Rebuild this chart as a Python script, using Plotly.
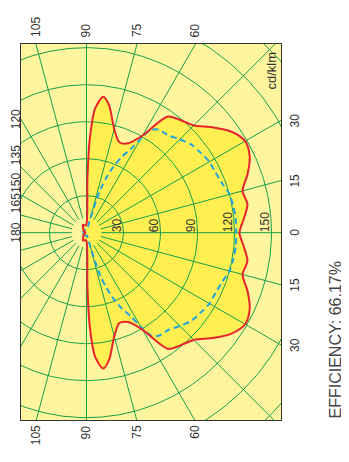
import numpy as np
import plotly.graph_objects as go

# photometric curves in cd/klm, one half-plane each (the other half is the mirror)
# angle 0 points right, angles grow counter-clockwise
red_angles = [0, 5, 10, 15, 20, 25, 30, 35, 40, 45, 50, 55, 60, 65, 70, 75, 80, 83, 86, 88, 89, 90,
              100, 115, 130, 145, 160, 180]
red_cd = [124, 128, 132.5, 131, 139, 146, 148.5, 143, 133, 123, 119, 115, 91, 80, 78, 87, 105, 111, 101, 76, 45, 7,
          6, 7, 4, 3, 1, 1.5]

blue_angles = [0, 5, 10, 15, 20, 25, 30, 35, 40, 45, 50, 55, 58, 60, 62, 65, 68, 70, 72, 73, 74, 75, 77, 80,
               90, 120, 150, 180]
blue_cd = [121.5, 121.5, 121, 120, 117, 115.5, 115, 113, 111, 107, 103, 102, 98, 88, 77, 68, 57, 48, 38, 28, 17, 9, 3, 2.5,
           2.5, 2.5, 2.5, 2.5]

ring_values = [30, 60, 90, 120, 150, 180, 210]
ring_labels = ["30", "60", "90", "120", "150"]
top_angles = [105, 90, 75, 60]
right_angles = [30, 15, 0, -15, -30]
left_angles = [120, 135, 150, 165, 180]
left_anchor = ["middle", "bottom", "bottom", "bottom", "middle"]
efficiency_text = "EFFICIENCY: 66.17%"
unit_text = "cd/klm"

# visible window of the diagram (cd/klm)
x_min, x_max = -53.1, 157.7
y_min, y_max = -151.9, 153.0

BG = "#FFF59E"
FILL = "#FFEF50"
GRID = "#15A04A"
RED = "#E5252B"
BLUE = "#22A3DD"
TXT = "#333333"
FONT = "Liberation Sans, Arial, sans-serif"


def mirrored(angles, values):
    a = np.array(angles, dtype=float)
    v = np.array(values, dtype=float)
    aa = np.concatenate([-a[::-1], a[1:]])
    vv = np.concatenate([v[::-1], v[1:]])
    t = np.radians(aa)
    return vv * np.cos(t), vv * np.sin(t)


fig = go.Figure()

# filled area of the red curve
rx, ry = mirrored(red_angles, red_cd)
fig.add_trace(go.Scatter(x=rx, y=ry, mode="lines", fill="toself", fillcolor=FILL,
                         line=dict(width=0, shape="spline", smoothing=0.8), hoverinfo="skip"))

# grid: rings and 15 degree spokes
gx, gy = [], []
t = np.linspace(0, 2 * np.pi, 361)
for r in ring_values:
    gx += list(r * np.cos(t)) + [None]
    gy += list(r * np.sin(t)) + [None]
for a in range(0, 360, 15):
    ar = np.radians(a)
    gx += [12 * np.cos(ar), 300 * np.cos(ar), None]
    gy += [12 * np.sin(ar), 300 * np.sin(ar), None]
fig.add_trace(go.Scatter(x=gx, y=gy, mode="lines", line=dict(color=GRID, width=1), hoverinfo="skip"))

bx, by = mirrored(blue_angles, blue_cd)
fig.add_trace(go.Scatter(x=bx, y=by, mode="lines", name="C90-C270",
                         line=dict(color=BLUE, width=2, dash="6px,4px", shape="spline", smoothing=0.8)))
fig.add_trace(go.Scatter(x=rx, y=ry, mode="lines", name="C0-C180",
                         line=dict(color=RED, width=2, shape="spline", smoothing=0.8)))

ann = []
lab = dict(showarrow=False, textangle=-90, font=dict(family=FONT, size=12, color=TXT))

# ring values along the 0 line
for r, s in zip(ring_values, ring_labels):
    ann.append(dict(text=s, x=r, y=0, xref="x", yref="y", xanchor="right", yanchor="bottom",
                    xshift=2, yshift=-2, **lab))

# angle labels at the frame
for a in top_angles:
    ar = np.radians(a)
    ann.append(dict(text=str(a), x=y_max * np.cos(ar) / np.sin(ar), y=1, xref="x", yref="paper",
                    xanchor="center", yanchor="bottom", yshift=5, **lab))
    ann.append(dict(text=str(a), x=-y_min * np.cos(ar) / np.sin(ar), y=0, xref="x", yref="paper",
                    xanchor="center", yanchor="top", yshift=-3, **lab))
for a in right_angles:
    ann.append(dict(text=str(abs(a)), x=1, y=x_max * np.tan(np.radians(a)), xref="paper", yref="y",
                    xanchor="left", yanchor="middle", xshift=5, **lab))
for a, anc in zip(left_angles, left_anchor):
    ann.append(dict(text=str(a), x=0, y=x_min * np.tan(np.radians(a)), xref="paper", yref="y",
                    xanchor="right", yanchor=anc, xshift=4, **lab))

ann.append(dict(text=unit_text, x=1, y=1, xref="paper", yref="paper", xanchor="right", yanchor="top",
                xshift=-1, yshift=-6, showarrow=False, textangle=-90,
                font=dict(family=FONT, size=13, color=TXT)))
ann.append(dict(text=efficiency_text, x=1.2115, y=0, xref="paper", yref="paper", xanchor="center",
                yanchor="bottom", showarrow=False, textangle=-90,
                font=dict(family=FONT, size=16, color="#444444")))

# the page body adds 8px, so the figure is 8px smaller than the window
fig.update_layout(
    width=341, height=454,
    margin=dict(l=13, r=68, t=36, b=42),
    paper_bgcolor="white", plot_bgcolor=BG,
    showlegend=False,
    annotations=ann,
)
fig.update_xaxes(range=[x_min, x_max], showgrid=False, zeroline=False, showticklabels=False, ticks="",
                 showline=True, mirror=True, linecolor="#333333", linewidth=1)
fig.update_yaxes(range=[y_min, y_max], showgrid=False, zeroline=False, showticklabels=False, ticks="",
                 showline=True, mirror=True, linecolor="#333333", linewidth=1)

fig.write_html("out.html")
